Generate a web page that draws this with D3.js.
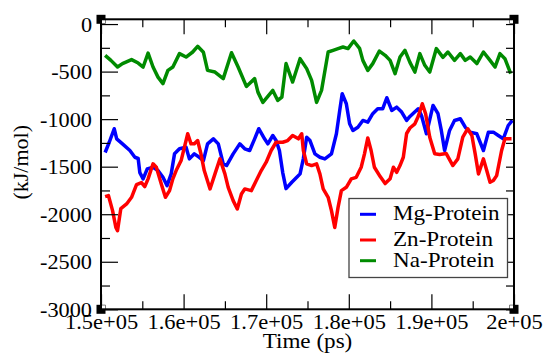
<!DOCTYPE html>
<html>
<head>
<meta charset="utf-8">
<script src="https://cdn.jsdelivr.net/npm/d3@7"></script>
<style>
body { margin: 0; background: #fff; }
svg text { font-family: 'Liberation Serif', 'Times New Roman', Times, 'DejaVu Serif', serif; }
</style>
</head>
<body>
<svg id="chart" width="543" height="358"></svg>
<script>
var xTicks = [150000, 160000, 170000, 180000, 190000, 200000];
var xTickLabels = ["1.5e+05", "1.6e+05", "1.7e+05", "1.8e+05", "1.9e+05", "2e+05"];
var yTicks = [0, -500, -1000, -1500, -2000, -2500, -3000];
var yTickLabels = ["0", "-500", "-1000", "-1500", "-2000", "-2500", "-3000"];
var seriesNames = ["Mg-Protein", "Zn-Protein", "Na-Protein"];

var mgTime = [150500, 151000, 151600, 151900, 152600, 153500, 154100, 154500, 154700, 155100,
  155600, 156300, 156900, 157500, 158000, 158500, 158900, 159500, 160300, 160700,
  161300, 161900, 162400, 162900, 163600, 164200, 164800, 165200, 166000, 166800,
  167400, 168000, 168600, 169100, 169800, 170200, 170800, 171200, 171600, 172000,
  172400, 173100, 173700, 174100, 174500, 174900, 175300, 175900, 176500, 177100,
  177900, 178500, 178900, 179200, 179700, 180100, 180500, 181100, 181700, 182300,
  182900, 183500, 184100, 184600, 185200, 185800, 186400, 187000, 187400, 188400,
  188800, 189400, 190200, 190800, 191200, 191600, 192200, 192800, 193500, 194100,
  194700, 195500, 196300, 196900, 197500, 198100, 198700, 199300, 199800];
var mgEnergy = [-1351, -1243, -1101, -1207, -1260, -1330, -1401, -1414, -1562, -1628,
  -1523, -1506, -1541, -1612, -1699, -1576, -1365, -1312, -1295, -1418,
  -1365, -1401, -1436, -1260, -1207, -1260, -1470, -1488, -1365, -1260,
  -1312, -1330, -1207, -1101, -1207, -1260, -1172, -1225, -1330, -1562,
  -1731, -1664, -1612, -1576, -1414, -1190, -1225, -1365, -1401, -1418,
  -1365, -1154, -909, -733, -838, -1049, -1119, -1085, -1014, -1032,
  -943, -891, -891, -775, -909, -874, -926, -1014, -972, -891,
  -961, -1154, -856, -943, -1119, -1330, -1119, -1014, -996, -1085,
  -1137, -1154, -1330, -1137, -1137, -1172, -1207, -1067, -1014];

var znTime = [150500, 150900, 151400, 151800, 152000, 152400, 153100, 153700, 154300, 154900,
  155300, 155700, 156300, 156700, 157300, 157800, 158300, 158700, 159100, 159700,
  160100, 160500, 160900, 161300, 161700, 162100, 162500, 163200, 163800, 164400,
  165000, 165400, 166000, 166500, 167000, 167400, 168200, 168800, 169400, 170000,
  170600, 171200, 172000, 172600, 173200, 173900, 174300, 174500, 174900, 175500,
  176100, 176500, 176900, 177500, 177900, 178300, 178700, 179100, 179700, 180300,
  180900, 181500, 181900, 182300, 182700, 183100, 183800, 184400, 185000, 185400,
  185800, 186200, 186600, 187000, 187400, 188000, 188400, 188900, 189300, 189800,
  190400, 191000, 191800, 192600, 193200, 193800, 194400, 194900, 195300, 195700,
  196300, 196700, 197100, 197500, 197900, 198500, 198900, 199700];
var znEnergy = [-1815, -1804, -1962, -2139, -2173, -1941, -1892, -1822, -1689, -1667,
  -1710, -1628, -1470, -1506, -1681, -1822, -1752, -1628, -1541, -1436,
  -1295, -1154, -1260, -1260, -1225, -1365, -1541, -1734, -1576, -1418,
  -1576, -1717, -1857, -1945, -1787, -1734, -1752, -1646, -1541, -1453,
  -1330, -1243, -1243, -1225, -1172, -1207, -1154, -1330, -1470, -1488,
  -1470, -1576, -1734, -1822, -1962, -2139, -1928, -1752, -1717, -1628,
  -1612, -1506, -1365, -1198, -1330, -1506, -1604, -1678, -1628, -1506,
  -1559, -1488, -1401, -1151, -1093, -1049, -972, -838, -943, -1190,
  -1365, -1372, -1362, -1488, -1418, -1190, -1101, -1172, -1365, -1576,
  -1418, -1541, -1664, -1646, -1594, -1330, -1207, -1207];

var naTime = [150500, 151200, 152000, 152600, 153700, 154500, 155100, 155700, 156300, 156900,
  157500, 158100, 158700, 159500, 160300, 161100, 161700, 162400, 162900, 163800,
  164800, 165800, 166600, 167600, 168600, 169000, 169600, 170200, 170800, 171400,
  171900, 172400, 173200, 174100, 174900, 175500, 176100, 176700, 177500, 178100,
  178700, 179300, 179900, 180600, 181300, 181700, 182300, 182900, 183700, 184400,
  185000, 185600, 186200, 186800, 187400, 188000, 188600, 189200, 189800, 190600,
  191400, 192000, 192800, 193500, 194100, 194700, 195500, 196300, 197100, 197700,
  198300, 198900, 199600];
var naEnergy = [-329, -382, -452, -416, -374, -410, -452, -305, -452, -558,
  -627, -487, -452, -311, -347, -294, -234, -297, -487, -505,
  -574, -302, -452, -656, -574, -716, -824, -761, -698, -803,
  -768, -416, -610, -364, -469, -592, -824, -698, -294, -276,
  -258, -241, -258, -178, -255, -382, -487, -416, -284, -329,
  -382, -522, -347, -276, -403, -505, -311, -434, -505, -258,
  -350, -294, -382, -311, -382, -347, -416, -294, -382, -452,
  -311, -364, -522];

var colors = ["#0000ff", "#ff0000", "#008b00"];

var svg = d3.select("#chart");
// plot frame in pixels
var plotLeft = 101, plotRight = 514, plotTop = 19.3, plotBottom = 309.3;

var x = d3.scaleLinear().domain([150000, 200000]).range([plotLeft, plotRight]);
var y = d3.scaleLinear().domain([-3000, 50]).range([plotBottom, plotTop]);

// stretch text a bit horizontally, the original was rendered wider
function stretch(sel, k) {
    sel.each(function() {
        var w = this.getComputedTextLength();
        d3.select(this).attr("textLength", w * k).attr("lengthAdjust", "spacingAndGlyphs");
    });
}

var series = [
    { name: seriesNames[0], t: mgTime, v: mgEnergy, color: colors[0] },
    { name: seriesNames[1], t: znTime, v: znEnergy, color: colors[1] },
    { name: seriesNames[2], t: naTime, v: naEnergy, color: colors[2] }
];

var line = d3.line()
    .x(function(d) { return x(d[0]); })
    .y(function(d) { return y(d[1]); });

// Draw the three series.
series.forEach(function(s) {
    svg.append("path")
        .datum(d3.zip(s.t, s.v))
        .attr("fill", "none")
        .attr("stroke", s.color)
        .attr("stroke-width", 3.5)
        .attr("stroke-linejoin", "round")
        .attr("d", line);
});

// Minor tick positions.
var xMinor = d3.range(155000, 200000, 10000);
var yMinor = d3.range(-250, -3000, -500);

function styleAxis(g) {
    g.select(".domain").remove();
    g.attr("font-family", null);
    g.selectAll(".tick line").attr("stroke", "#000").attr("stroke-width", 1.2);
}

// Bottom axis with labels.
var gx = svg.append("g")
    .attr("transform", "translate(0," + plotBottom + ")")
    .call(d3.axisBottom(x).tickValues(xTicks).tickSize(-15).tickSizeOuter(0)
        .tickFormat(function(d, i) { return xTickLabels[i]; }));
styleAxis(gx);
gx.attr("font-size", 21);
gx.selectAll(".tick text")
    .attr("y", 20)
    .attr("dy", 0);
stretch(gx.selectAll(".tick text"), 1.07);

svg.append("g")
    .attr("transform", "translate(0," + plotBottom + ")")
    .call(d3.axisBottom(x).tickValues(xMinor).tickSize(-8).tickSizeOuter(0).tickFormat(""))
    .call(styleAxis);

// Top axis, ticks only.
svg.append("g")
    .attr("transform", "translate(0," + plotTop + ")")
    .call(d3.axisTop(x).tickValues(xTicks).tickSize(-15).tickSizeOuter(0).tickFormat(""))
    .call(styleAxis);
svg.append("g")
    .attr("transform", "translate(0," + plotTop + ")")
    .call(d3.axisTop(x).tickValues(xMinor).tickSize(-8).tickSizeOuter(0).tickFormat(""))
    .call(styleAxis);

// Left axis with labels.
var gy = svg.append("g")
    .attr("transform", "translate(" + plotLeft + ",0)")
    .call(d3.axisLeft(y).tickValues(yTicks).tickSize(-17).tickSizeOuter(0)
        .tickFormat(function(d, i) { return yTickLabels[i]; }));
styleAxis(gy);
gy.attr("font-size", 21);
gy.selectAll(".tick text")
    .attr("x", -9)
    .attr("dy", "0.34em");
stretch(gy.selectAll(".tick text"), 1.06);

svg.append("g")
    .attr("transform", "translate(" + plotLeft + ",0)")
    .call(d3.axisLeft(y).tickValues(yMinor).tickSize(-9).tickSizeOuter(0).tickFormat(""))
    .call(styleAxis);

// Right axis, short ticks.
svg.append("g")
    .attr("transform", "translate(" + plotRight + ",0)")
    .call(d3.axisRight(y).tickValues(yTicks.concat(yMinor)).tickSize(-8).tickSizeOuter(0).tickFormat(""))
    .call(styleAxis);

// Frame.
svg.append("rect")
    .attr("x", plotLeft)
    .attr("y", plotTop)
    .attr("width", plotRight - plotLeft)
    .attr("height", plotBottom - plotTop)
    .attr("fill", "none")
    .attr("stroke", "#000")
    .attr("stroke-width", 2);

// Corner handles.
[[plotLeft, plotTop, 1, 1], [plotRight, plotTop, -1, 1], [plotLeft, plotBottom, 1, -1], [plotRight, plotBottom, -1, -1]].forEach(function(c) {
    svg.append("rect")
        .attr("x", c[0] - 4.5).attr("y", c[1] - 4.5)
        .attr("width", 9).attr("height", 9)
        .attr("fill", "#000");
    svg.append("rect")
        .attr("x", c[0] + (c[2] > 0 ? 1 : -4)).attr("y", c[1] + (c[3] > 0 ? 1 : -4))
        .attr("width", 3).attr("height", 3)
        .attr("fill", "#fff");
});

// Axis titles.
var xt = svg.append("text")
    .attr("x", (plotLeft + plotRight) / 2)
    .attr("y", 348)
    .attr("text-anchor", "middle")
    .attr("font-size", 22)
    .text("Time (ps)");
stretch(xt, 1.05);

svg.append("text")
    .attr("transform", "translate(28," + ((plotTop + plotBottom) / 2 - 2) + ") rotate(-90)")
    .attr("text-anchor", "middle")
    .attr("font-size", 22)
    .text("(kJ/mol)");

// Legend.
var legend = svg.append("g");
legend.append("rect")
    .attr("x", 349)
    .attr("y", 198.5)
    .attr("width", 158.5)
    .attr("height", 79)
    .attr("fill", "#fff")
    .attr("stroke", "#444")
    .attr("stroke-width", 1.3);

var legendRows = [214.3, 240, 260.7];
series.forEach(function(s, i) {
    legend.append("line")
        .attr("x1", 360).attr("x2", 376)
        .attr("y1", legendRows[i]).attr("y2", legendRows[i])
        .attr("stroke", s.color)
        .attr("stroke-width", 3);
    var lt = legend.append("text")
        .attr("x", 393)
        .attr("y", legendRows[i] + 6)
        .attr("font-size", 22)
        .text(s.name);
    stretch(lt, 1.05);
});
</script>
</body>
</html>
